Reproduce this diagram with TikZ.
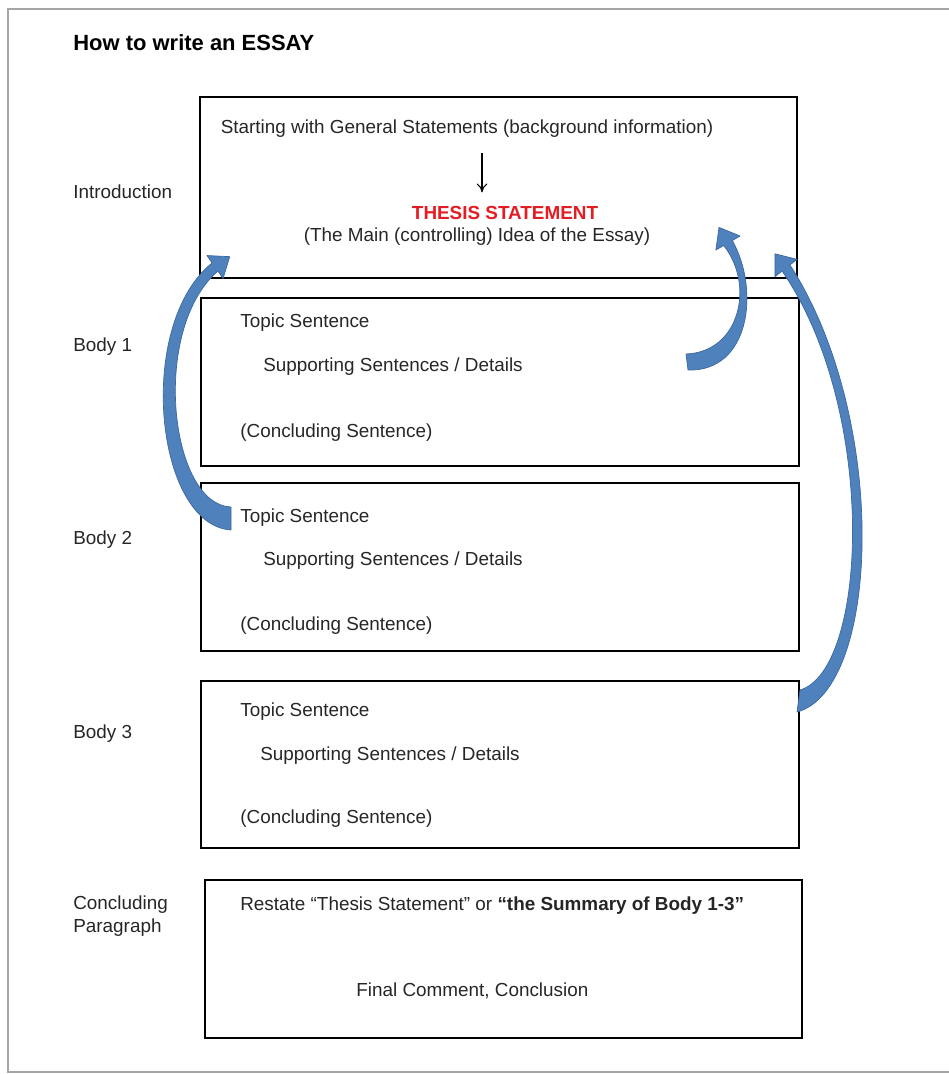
\documentclass[tikz,border=0pt]{standalone}
\usepackage{fontspec}
\setmainfont{Liberation Sans}
\usepackage{xcolor}
\usepackage{tikz}
\usetikzlibrary{calc,fit,arrows.meta}
\definecolor{arrowblue}{RGB}{79,129,189}
\definecolor{arrowedge}{RGB}{60,104,162}
\definecolor{thesisred}{RGB}{228,28,36}
\tikzset{
	essaybox/.style={draw=black,line width=1.1pt,inner sep=0pt},
	txt/.style={anchor=west,inner sep=0pt,text height=1.6ex,text depth=.4ex,text=black!85,font=\fontsize{10.75}{12.9}\selectfont},
	ctxt/.style={txt,anchor=center},
	bluearrow/.style={fill=arrowblue,draw=arrowedge,line width=0.4pt,line join=round},
}
\newcommand{\headcoords}[4]{%
	\begin{scope}[shift={(#2,#3)},rotate=#4]
		\coordinate (#1n1) at (0,-5);
		\coordinate (#1n2) at (0,5);
		\coordinate (#1b1) at (0,-14);
		\coordinate (#1b2) at (0,14);
		\coordinate (#1tip) at (18,0);
	\end{scope}}
\begin{document}
\begin{tikzpicture}[x=0.02cm,y=-0.02cm]
	\useasboundingbox (0,0) rectangle (949,1074);
	\draw[black!35,line width=1.2pt] (949,9) -- (8,9) -- (8,1072) -- (949,1072);

	\node[txt,font=\fontsize{12.5}{15}\selectfont\bfseries,text=black] (title) at (73,45) {How to write an ESSAY};

	\node[essaybox,fit={(200,97) (797,278)}] (intro) {};
	\node[essaybox,fit={(201,298) (799,466)}] (body1) {};
	\node[essaybox,fit={(201,483) (799,651)}] (body2) {};
	\node[essaybox,fit={(201,681) (799,848)}] (body3) {};
	\node[essaybox,fit={(205,880) (802,1038)}] (concl) {};

	\node[txt] (introlabel) at (73,193) {Introduction};
	\node[txt] (body1label) at (73,346) {Body 1};
	\node[txt] (body2label) at (73,539) {Body 2};
	\node[txt] (body3label) at (73,733) {Body 3};
	\node[txt,align=left,text height=,text depth=] (concllabel) at (73,916) {Concluding\\Paragraph};

	\node[ctxt] (start) at (467,128) {Starting with General Statements (background information)};
	\node[ctxt,text=thesisred,font=\fontsize{10.75}{12.9}\selectfont\bfseries] (thesis) at (505,214) {THESIS STATEMENT};
	\node[ctxt] (mainidea) at (477,236) {(The Main (controlling) Idea of the Essay)};
	\coordinate (downtop) at (482,153);
	\draw[-{To[length=5pt,width=6pt]},line width=0.6pt,shorten >=0.24cm] (downtop) -- (downtop |- thesis.north);

	\node[txt] (topic1) at (240,322) {Topic Sentence};
	\node[txt] (support1) at (263,366) {Supporting Sentences / Details};
	\node[txt] (closing1) at (240,432) {(Concluding Sentence)};

	\node[txt] (topic2) at (240,517) {Topic Sentence};
	\node[txt] (support2) at (263,560) {Supporting Sentences / Details};
	\node[txt] (closing2) at (240,625) {(Concluding Sentence)};

	\node[txt] (topic3) at (240,711) {Topic Sentence};
	\node[txt] (support3) at (260,755) {Supporting Sentences / Details};
	\node[txt] (closing3) at (240,818) {(Concluding Sentence)};

	\node[txt] (restate) at (240,905) {Restate “Thesis Statement” or \textbf{“the Summary of Body 1-3”}};
	\node[txt] (final) at (356,991) {Final Comment, Conclusion};

	\headcoords{ha}{215}{267}{35}
	\headcoords{hb}{728}{243}{120}
	\headcoords{hc}{786}{268}{128}

	\fill[bluearrow] (231,530) .. controls (155,525) and (135,325) .. (han1) -- (hab1) -- (hatip) -- (hab2) -- (han2) .. controls (150,330) and (170,505) .. (231,507) -- cycle;
	\fill[bluearrow] (688,370) .. controls (750,372) and (760,290) .. (hbn2) -- (hbb2) -- (hbtip) -- (hbb1) -- (hbn1) .. controls (755,285) and (740,352) .. (686,354) -- cycle;
	\fill[bluearrow] (797,712) .. controls (880,690) and (890,420) .. (hcn2) -- (hcb2) -- (hctip) -- (hcb1) -- (hcn1) .. controls (878,410) and (868,670) .. (800,690) -- cycle;
\end{tikzpicture}
\end{document}
